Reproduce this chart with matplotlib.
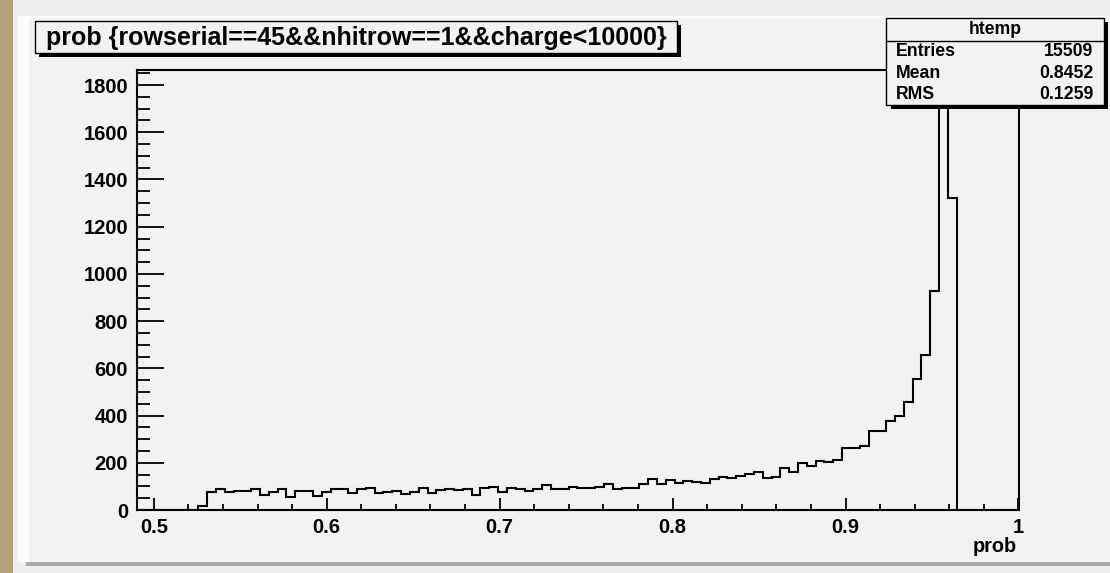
import matplotlib

matplotlib.use("Agg")

import matplotlib.pyplot as plt
import numpy as np
from matplotlib.patches import Rectangle
from matplotlib.ticker import MultipleLocator

W, H = 1110, 573

# histogram: 100 bins from 0.49 to 1.0, counts
x_min, x_max, n_bins = 0.49, 1.0, 100
counts = [
    0, 0, 0, 0, 0, 0, 0, 18, 75, 87,
    75, 82, 81, 87, 64, 75, 88, 54, 81, 81,
    60, 75, 91, 87, 71, 91, 94, 71, 77, 80,
    67, 78, 92, 74, 84, 91, 85, 88, 64, 94,
    99, 78, 95, 91, 80, 87, 105, 88, 88, 99,
    95, 92, 97, 111, 90, 95, 95, 109, 132, 109,
    128, 115, 122, 118, 114, 130, 139, 136, 146, 151,
    162, 135, 138, 178, 159, 199, 185, 209, 202, 213,
    262, 262, 273, 334, 334, 378, 398, 458, 554, 657,
    927, 1775, 1322, 0, 0, 0, 0, 0, 0, 0,
]
title = "prob {rowserial==45&&nhitrow==1&&charge<10000}"
stat_names = ["Entries", "Mean", "RMS"]
stat_values = ["15509", "0.8452", "0.1259"]
x_ticks = [0.5, 0.6, 0.7, 0.8, 0.9, 1.0]
x_tick_labels = ["0.5", "0.6", "0.7", "0.8", "0.9", "1"]
y_ticks = [0, 200, 400, 600, 800, 1000, 1200, 1400, 1600, 1800]

plt.rcParams["font.family"] = ["Liberation Sans", "DejaVu Sans"]
plt.rcParams["font.weight"] = "bold"

PAD = "#f2f2f2"


def fx(x):
    return x / W


def fy(y):
    return 1 - y / H


def px_rect(fig, x0, y0, x1, y1, **kw):
    r = Rectangle((fx(x0), fy(y1)), fx(x1) - fx(x0), fy(y0) - fy(y1),
                  transform=fig.transFigure, **kw)
    fig.add_artist(r)
    return r


fig = plt.figure(figsize=(W / 100, H / 100), dpi=100, facecolor="#efefef")

# canvas decorations
px_rect(fig, 0, 0, 13, H, facecolor="#b2a47c", edgecolor="none", zorder=0)
px_rect(fig, 18, 16, W, 562, facecolor="#fbfbfb", edgecolor="none", zorder=0)
px_rect(fig, 29, 18, W, 562, facecolor=PAD, edgecolor="none", zorder=0)
px_rect(fig, 26, 562, W, 566, facecolor="#a9a9a9", edgecolor="none", zorder=0)

ax_l, ax_r, ax_t, ax_b = 136.5, 1018.5, 70, 510
ax = fig.add_axes([fx(ax_l), fy(ax_b), fx(ax_r) - fx(ax_l), fy(ax_t) - fy(ax_b)])
ax.set_facecolor(PAD)

edges = np.linspace(x_min, x_max, n_bins + 1)
ax.stairs(counts, edges, color="black", linewidth=1.5)

ax.set_xlim(x_min, x_max)
ax.set_ylim(0, 1.05 * max(counts))
for side in ax.spines.values():
    side.set_linewidth(1.5)

ax.set_xticks(x_ticks)
ax.set_xticklabels(x_tick_labels)
ax.set_yticks(y_ticks)
ax.xaxis.set_minor_locator(MultipleLocator(0.02))
ax.yaxis.set_minor_locator(MultipleLocator(50))
ax.tick_params(axis="both", which="both", direction="in", width=1.3,
               labelsize=14.5, top=False, right=False)
ax.tick_params(axis="y", which="major", length=19.5, pad=6)
ax.tick_params(axis="y", which="minor", length=9.5)
ax.tick_params(axis="x", which="major", length=8.8, pad=6)
ax.tick_params(axis="x", which="minor", length=4.4)

fig.text(fx(1017), fy(546), "prob", ha="right", va="center", fontsize=14.3, fontweight="bold")

# title box with shadow
px_rect(fig, 39, 25, 681, 57, facecolor="black", edgecolor="none", zorder=3)
px_rect(fig, 35, 21, 677, 53, facecolor=PAD, edgecolor="black", linewidth=1.0, zorder=4)
fig.text(fx(356), fy(37.5), title, ha="center", va="center", fontsize=18,
         fontweight="bold", zorder=5)

# stats box with shadow
bx0, by0, bx1, by1 = 886.5, 18, 1104, 105
px_rect(fig, bx0 + 4, by0 + 4, bx1 + 4, by1 + 4, facecolor="black", edgecolor="none", zorder=3)
px_rect(fig, bx0, by0, bx1, by1, facecolor=PAD, edgecolor="black", linewidth=1.0, zorder=4)
fig.add_artist(plt.Line2D([fx(bx0), fx(bx1)], [fy(41), fy(41)], transform=fig.transFigure,
                          color="black", linewidth=1.0, zorder=5))
fig.text(fx((bx0 + bx1) / 2), fy(30), "htemp", ha="center", va="center",
         fontsize=12.7, fontweight="bold", zorder=5)
for i, (name, value) in enumerate(zip(stat_names, stat_values)):
    y = 51.7 + 21.4 * i
    fig.text(fx(896), fy(y), name, ha="left", va="center", fontsize=12.7,
             fontweight="bold", zorder=5)
    fig.text(fx(1093), fy(y), value, ha="right", va="center", fontsize=12.7,
             fontweight="bold", zorder=5)

fig.savefig("out.png", dpi=100, facecolor=fig.get_facecolor())
